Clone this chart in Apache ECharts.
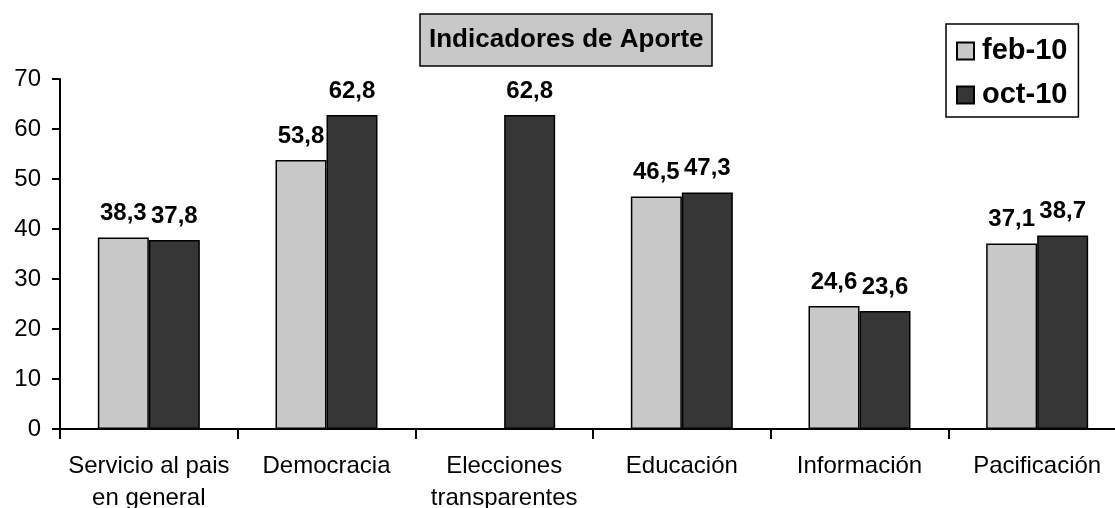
<!DOCTYPE html>
<html>
<head>
<meta charset="utf-8">
<script src="https://cdn.jsdelivr.net/npm/echarts@6/dist/echarts.min.js"></script>
<style>
	html, body { margin: 0; padding: 0; background: #fff; }
	#chart { width: 1115px; height: 508px; }
</style>
</head>
<body>
<div id="chart"></div>
<script>
var categories = ['Servicio al pais\nen general', 'Democracia', 'Elecciones\ntransparentes', 'Educación', 'Información', 'Pacificación'];
var feb10 = [38.3, 53.8, null, 46.5, 24.6, 37.1];
var oct10 = [37.8, 62.8, 62.8, 47.3, 23.6, 38.7];
var yTicks = [0, 10, 20, 30, 40, 50, 60, 70];

var font = '"Liberation Sans", Arial, sans-serif';

function commaLabel(p) {
	return String(p.value).replace('.', ',');
}

var chart = echarts.init(document.getElementById('chart'));

var option = {
	animation: false,
	backgroundColor: '#fff',
	title: {
		text: 'Indicadores de Aporte',
		left: 420,
		top: 14,
		padding: [13, 9, 13, 9],
		backgroundColor: '#c8c8c8',
		borderColor: '#000',
		borderWidth: 1.5,
		textStyle: {
			fontFamily: font,
			fontSize: 26,
			fontWeight: 'bold',
			color: '#000'
		}
	},
	legend: {
		orient: 'vertical',
		left: 946,
		top: 24,
		padding: [12, 11, 7, 10],
		itemWidth: 17,
		itemHeight: 17,
		itemGap: 14,
		icon: 'rect',
		backgroundColor: '#fff',
		borderColor: '#000',
		borderWidth: 1.5,
		textStyle: {
			fontFamily: font,
			fontSize: 29,
			fontWeight: 'bold',
			color: '#000',
			lineHeight: 30,
			padding: [0, 0, 0, 3]
		},
		data: ['feb-10', 'oct-10']
	},
	grid: {
		left: 60,
		right: -11,
		top: 79,
		bottom: 79,
		containLabel: false,
		outerBoundsMode: 'none'
	},
	xAxis: {
		type: 'category',
		data: categories,
		axisLine: { lineStyle: { color: '#000', width: 2 } },
		axisTick: { show: true, length: 10, lineStyle: { color: '#000', width: 2 } },
		axisLabel: {
			interval: 0,
			margin: 21,
			fontFamily: font,
			fontSize: 24,
			lineHeight: 32,
			color: '#000'
		}
	},
	yAxis: {
		type: 'value',
		min: yTicks[0],
		max: yTicks[yTicks.length - 1],
		interval: 10,
		axisLine: { show: true, lineStyle: { color: '#000', width: 2 } },
		axisTick: { show: true, length: 8, lineStyle: { color: '#000', width: 2 } },
		splitLine: { show: false },
		axisLabel: {
			margin: 19,
			fontFamily: font,
			fontSize: 24,
			color: '#000'
		}
	},
	series: [{
		name: 'feb-10',
		type: 'bar',
		data: feb10,
		barWidth: 51,
		barGap: '0%',
		itemStyle: { color: '#c8c8c8', borderColor: '#000', borderWidth: 1.5 },
		label: {
			show: true,
			position: 'top',
			distance: 12,
			formatter: commaLabel,
			fontFamily: font,
			fontSize: 24,
			fontWeight: 'bold',
			color: '#000'
		}
	}, {
		name: 'oct-10',
		type: 'bar',
		data: oct10,
		barWidth: 51,
		barGap: '0%',
		itemStyle: { color: '#363636', borderColor: '#000', borderWidth: 1.5 },
		label: {
			show: true,
			position: 'top',
			distance: 12,
			formatter: commaLabel,
			fontFamily: font,
			fontSize: 24,
			fontWeight: 'bold',
			color: '#000'
		}
	}]
};

chart.setOption(option);
</script>
</body>
</html>
